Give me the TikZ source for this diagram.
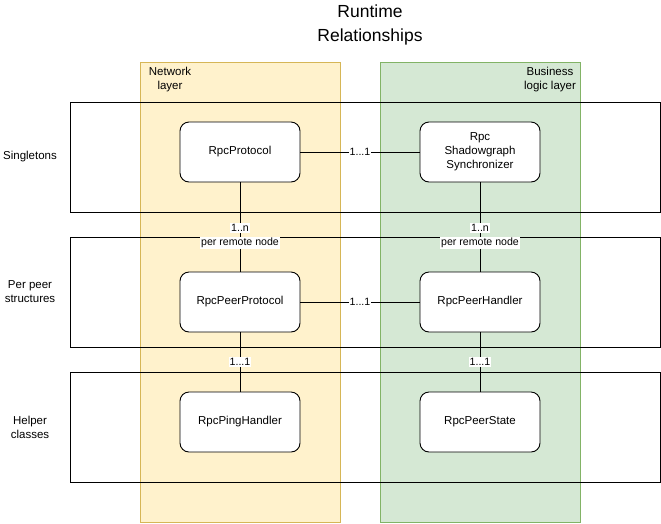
\documentclass[tikz,border=0pt]{standalone}
\usepackage{fontspec}
\setmainfont{Liberation Sans}
\usepackage{tikz}

\definecolor{netfill}{HTML}{FFF2CC}
\definecolor{netline}{HTML}{D6B656}
\definecolor{bizfill}{HTML}{D5E8D4}
\definecolor{bizline}{HTML}{82B366}

\begin{document}
\begin{tikzpicture}[x=1pt, y=-1pt, line width=0.9pt,
    classbox/.style={draw, fill=white, rounded corners=9pt, minimum width=120pt, minimum height=60pt, align=center, font=\fontsize{11.5}{14}\selectfont},
    rowlabel/.style={align=center, font=\fontsize{11.5}{14}\selectfont},
    mult/.style={fill=white, inner sep=1pt, font=\fontsize{10.6}{12}\selectfont}]
    \useasboundingbox (0,0) rectangle (661,523);

    % Title
    \node[align=center, font=\fontsize{17.5}{24}\selectfont] (title) at (370,25) {Runtime\\Relationships};

    % Layer columns
    \draw[netline, fill=netfill] (140,62) rectangle (340,522);
    \draw[bizline, fill=bizfill] (380,62) rectangle (580,522);
    \node[rowlabel, anchor=north] (netlbl) at (170,63) {Network\\layer};
    \node[rowlabel, anchor=north] (bizlbl) at (550,63) {Business\\logic layer};

    % Rows
    \draw (70,102) rectangle (660,212);
    \draw (70,237) rectangle (660,347);
    \draw (70,372) rectangle (660,482);
    \node[rowlabel] (singles) at (30,157) {Singletons};
    \node[rowlabel] (perpeer) at (30,292) {Per peer\\structures};
    \node[rowlabel] (helpers) at (30,427) {Helper\\classes};

    % Classes
    \node[classbox] (proto) at (240,152) {RpcProtocol};
    \node[classbox] (sync) at (480,152) {Rpc\\Shadowgraph\\Synchronizer};
    \node[classbox] (peerproto) at (240,302) {RpcPeerProtocol};
    \node[classbox] (handler) at (480,302) {RpcPeerHandler};
    \node[classbox] (ping) at (240,422) {RpcPingHandler};
    \node[classbox] (state) at (480,422) {RpcPeerState};

    % Horizontal links
    \draw (proto) -- node[mult] {1...1} (sync);
    \draw (peerproto) -- node[mult] {1...1} (handler);

    % Vertical links
    \draw (proto) -- (peerproto)
        node[mult, pos=0.51] {1..n}
        node[mult, pos=0.68] {per remote node};
    \draw (sync) -- (handler)
        node[mult, pos=0.51] {1..n}
        node[mult, pos=0.68] {per remote node};
    \draw (peerproto) -- node[mult] {1...1} (ping);
    \draw (handler) -- node[mult] {1...1} (state);
\end{tikzpicture}
\end{document}
